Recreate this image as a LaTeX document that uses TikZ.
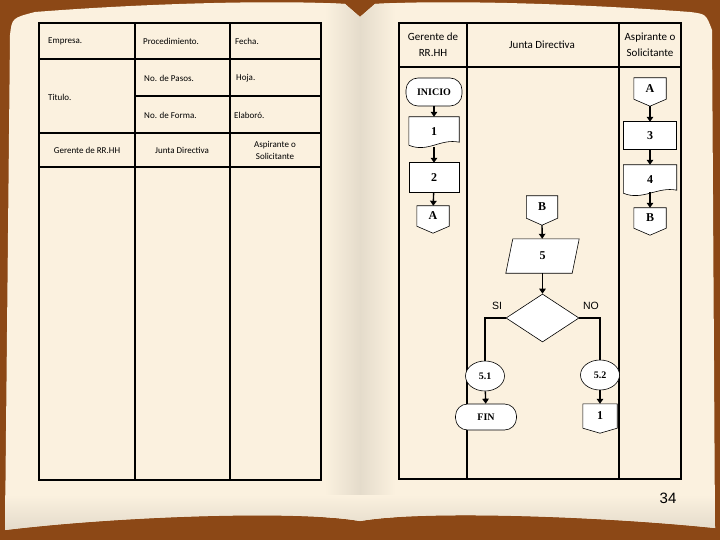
\documentclass[tikz,border=0pt]{standalone}
\usepackage{fontspec}
\usetikzlibrary{calc,arrows.meta,shapes.geometric}
\newfontfamily\tabfont{Carlito}
\newfontfamily\flowfont{Liberation Serif}
\newfontfamily\arialfont{Liberation Sans}
\definecolor{cuero}{RGB}{140,72,22}
\definecolor{hoja}{RGB}{251,241,223}
\pgfdeclarelayer{fondo}
\pgfdeclarelayer{formas}
\pgfsetlayers{fondo,formas,main}
\tikzset{>=stealth}
\tikzset{
  tabla/.style={line width=1.5pt,black},
  celda/.style={font=\tabfont\fontsize{9}{11}\selectfont,anchor=west,inner sep=0pt},
  cabeza/.style={font=\tabfont\fontsize{9}{12}\selectfont,align=center,inner sep=0pt},
  cabezader/.style={font=\tabfont\fontsize{11}{16}\selectfont,align=center,inner sep=0pt},
  contorno/.style={draw=black,fill=white,line width=0.6pt},
  hueco/.style={inner sep=0pt,font=\flowfont\bfseries\fontsize{12}{14}\selectfont},
  terminal/.style={contorno,hueco,rounded corners=12pt,font=\flowfont\bfseries\fontsize{10}{12}\selectfont},
  elipse/.style={contorno,ellipse,inner sep=0pt,minimum width=39pt,minimum height=30pt,font=\flowfont\bfseries\fontsize{10}{12}\selectfont},
  rotulo/.style={font=\arialfont\fontsize{10.5}{12}\selectfont,inner sep=0pt},
  flecha/.style={line width=1.4pt,-{Triangle[width=6.5pt,length=5pt]}},
  linea/.style={line width=1.4pt}
}
% outlines drawn behind the node texts
\newcommand{\formadoc}[1]{\filldraw[contorno] (#1.north west) -- (#1.north east) -- ($(#1.south east)+(0,-5)$) .. controls ($(#1.south east)+(-19,-9)$) and ($(#1.south west)+(19,6)$) .. ($(#1.south west)+(0,-2)$) -- cycle;}
\newcommand{\formacon}[2]{\filldraw[contorno] (#1.north west) -- (#1.north east) -- (#1.south east) -- ($(#1.south)+(0,#2)$) -- (#1.south west) -- cycle;}
\newcommand{\formapar}[1]{\filldraw[contorno] ($(#1.north west)+(3.5,0)$) -- ($(#1.north east)+(3.5,0)$) -- ($(#1.south east)+(-3.5,0)$) -- ($(#1.south west)+(-3.5,0)$) -- cycle;}

\begin{document}
\begin{tikzpicture}[x=1pt,y=-1pt]
\useasboundingbox (0,0) rectangle (720,540);
\begin{pgfonlayer}{fondo}
  \fill[cuero] (0,0) rectangle (720,540);
  \def\libro{(5,530) -- (10,35) .. controls (12,18) .. (35,12) .. controls (150,3) and (280,0) .. (345,4) -- (360,17) -- (375,4) .. controls (440,0) and (570,3) .. (690,12) .. controls (706,14) .. (712,30) -- (715,528) .. controls (600,516) and (420,510) .. (360,521) .. controls (300,510) and (120,516) .. (5,530) -- cycle}
  \fill[hoja] \libro;
  \begin{scope}
    \clip \libro;
    \shade[left color=hoja,right color=black!9!hoja] (325,0) rectangle (360,540);
    \shade[left color=black!9!hoja,right color=hoja] (360,0) rectangle (395,540);
    \shade[top color=hoja,bottom color=black!12!hoja] (0,495) rectangle (720,540);
  \end{scope}
  % left page form
  \draw[tabla] (39,23) rectangle (321,480);
  \draw[tabla] (135,23) -- (135,480);
  \draw[tabla] (230,23) -- (230,480);
  \draw[tabla] (39,59) -- (321,59);
  \draw[tabla] (135,96) -- (321,96);
  \draw[tabla] (39,133) -- (321,133);
  \draw[tabla] (39,167) -- (321,167);
  % right page form
  \draw[tabla] (399,23) rectangle (681,479);
  \draw[tabla] (467,23) -- (467,479);
  \draw[tabla] (619,23) -- (619,479);
  \draw[tabla] (399,67) -- (681,67);
\end{pgfonlayer}

\node[celda] (empresa) at (48,41) {Empresa.};
\node[celda] (proc) at (143,41) {Procedimiento.};
\node[celda] (fecha) at (235,41) {Fecha.};
\node[celda] (pasos) at (144,78) {No. de Pasos.};
\node[celda] (hojaN) at (236,78) {Hoja.};
\node[celda] (titulo) at (48,97) {Titulo.};
\node[celda] (forma) at (144,115) {No. de Forma.};
\node[celda] (elab) at (234,115) {Elaboró.};
\node[cabeza] (gerI) at (87,150) {Gerente de RR.HH};
\node[cabeza] (juntaI) at (182,150) {Junta Directiva};
\node[cabeza] (aspI) at (275,150) {Aspirante o\\Solicitante};

\node[cabezader] (gerD) at (433,45) {Gerente de\\RR.HH};
\node[cabezader] (juntaD) at (542,45) {Junta Directiva};
\node[cabezader] (aspD) at (650,45) {Aspirante o\\Solicitante};

% flow chart
\node[terminal,minimum width=56pt,minimum height=28pt] (inicio) at (434,92) {INICIO};
\node[hueco,minimum width=50pt,minimum height=30pt] (p1) at (434,132) {1};
\node[hueco,minimum width=50pt,minimum height=29pt] (p2) at (434,177.5) {2};
\node[hueco,minimum width=32pt,minimum height=20pt] (conA1) at (433,216) {A};
\node[hueco,minimum width=32pt,minimum height=21pt] (conA2) at (650,88.5) {A};
\node[hueco,minimum width=53pt,minimum height=27pt] (p3) at (650,135.5) {3};
\node[hueco,minimum width=53pt,minimum height=30pt] (p4) at (650,180) {4};
\node[hueco,minimum width=32pt,minimum height=20pt] (conB2) at (650,218) {B};
\node[hueco,minimum width=31pt,minimum height=22pt] (conB1) at (542,207) {B};
\node[hueco,minimum width=66pt,minimum height=34pt] (p5) at (542.5,256) {5};
\node[contorno,diamond,inner sep=0pt,minimum width=73pt,minimum height=48pt] (dec) at (542.5,318) {};
\node[rotulo] (si) at (497,306) {SI};
\node[rotulo] (no) at (591,306) {NO};
\node[elipse] (s51) at (485,376) {5.1};
\node[elipse] (s52) at (600,375) {5.2};
\node[terminal,minimum width=61pt,minimum height=26pt] (fin) at (486,417) {FIN};
\node[hueco,minimum width=34pt,minimum height=24pt] (con1) at (600,416) {1};
\node[font=\arialfont\fontsize{15}{18}\selectfont,inner sep=0pt] (pagina) at (668,498) {34};

\begin{pgfonlayer}{formas}
  \formadoc{p1}
  \formadoc{p4}
  \filldraw[contorno] (p2.north west) rectangle (p2.south east);
  \filldraw[contorno] (p3.north west) rectangle (p3.south east);
  \formacon{conA1}{7}
  \formacon{conA2}{7}
  \formacon{conB1}{7}
  \formacon{conB2}{7}
  \formacon{con1}{5}
  \formapar{p5}
\end{pgfonlayer}

\draw[flecha] (inicio) -- (p1);
\draw[flecha] (p1) -- (p2);
\draw[flecha] (p2) -- (conA1);
\draw[flecha] ($(conA2.south)+(0,7)$) -- (p3);
\draw[flecha] (p3) -- (p4);
\draw[flecha] ($(p4.south)+(0,-3)$) -- (conB2);
\draw[flecha] ($(conB1.south)+(0,7)$) -- (p5);
\draw[flecha] (p5) -- (dec);
\draw[linea] (dec.west) -| (s51.north);
\draw[linea] (dec.east) -| (s52.north);
\draw[flecha] (s51) -- (fin);
\draw[flecha] (s52) -- (con1);
\end{tikzpicture}
\end{document}
